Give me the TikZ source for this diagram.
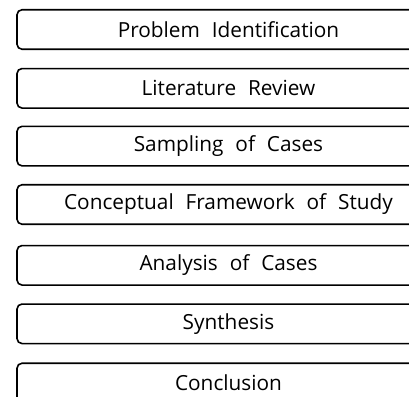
\documentclass[tikz,border=0pt]{standalone}
\usepackage{fontspec}
\setmainfont[WordSpace=2.2]{Open Sans}
\begin{document}
\begin{tikzpicture}[x=1pt,y=-1pt,
  stagebox/.style={draw=black, line width=1.6pt, rounded corners=5pt,
    minimum width=423pt, minimum height=39.5pt, inner sep=0pt,
    font=\fontsize{20.8}{22}\selectfont, text=black, anchor=center}]
\useasboundingbox (0,0) rectangle (409,396);
\clip (0,0) rectangle (409,396);
\node[stagebox] (s1) at (228.5, 29.5) {Problem Identification};
\node[stagebox] (s2) at (228.5, 88.3) {Literature Review};
\node[stagebox] (s3) at (228.5, 146.1) {Sampling of Cases};
\node[stagebox] (s4) at (228.5, 204.5) {Conceptual Framework of Study};
\node[stagebox] (s5) at (228.5, 265.3) {Analysis of Cases};
\node[stagebox] (s6) at (228.5, 323.8) {Synthesis};
\node[stagebox] (s7) at (228.5, 383) {Conclusion};
\end{tikzpicture}
\end{document}
